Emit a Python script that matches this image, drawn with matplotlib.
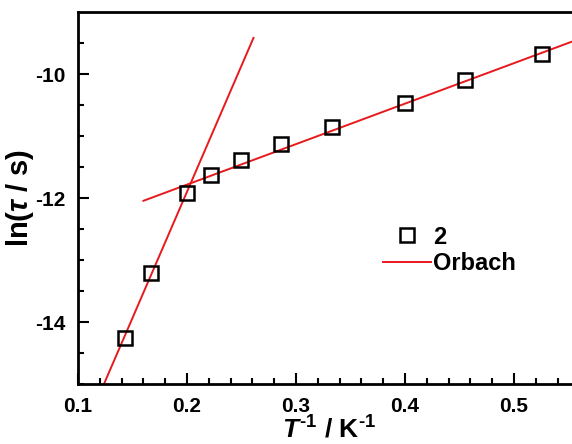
import matplotlib.pyplot as plt
import numpy as np

plt.rcParams['font.family'] = ['Liberation Sans', 'DejaVu Sans']
plt.rcParams['font.weight'] = 'bold'
plt.rcParams['axes.labelweight'] = 'bold'
plt.rcParams['axes.unicode_minus'] = False
plt.rcParams['mathtext.fontset'] = 'custom'
plt.rcParams['mathtext.it'] = 'Liberation Sans:italic:bold'
plt.rcParams['mathtext.rm'] = 'Liberation Sans:bold'

# data: inverse temperature and ln(tau)
inv_T = [0.143, 0.167, 0.200, 0.222, 0.250, 0.286, 0.333, 0.400, 0.455, 0.526]
ln_tau = [-14.26, -13.21, -11.92, -11.63, -11.39, -11.13, -10.85, -10.46, -10.10, -9.68]

# Orbach fits (slope, intercept) and x ranges
fit_hi_x = [0.12, 0.261]
fit_hi_slope = 40.7
fit_hi_icpt = -20.04
fit_lo_x = [0.16, 0.56]
fit_lo_slope = 6.53
fit_lo_icpt = -13.09

fig = plt.figure(figsize=(5.72, 4.44), dpi=100)
ax = fig.add_axes([78/572, 60/444, (580-78)/572, 372/444])

xh = np.array(fit_hi_x)
xl = np.array(fit_lo_x)
ax.plot(xh, fit_hi_slope*xh + fit_hi_icpt, color='#e8191c', lw=1.4)
ax.plot(xl, fit_lo_slope*xl + fit_lo_icpt, color='#e8191c', lw=1.4, label='Orbach')
ax.plot(inv_T, ln_tau, ls='none', marker='s', ms=9.5, mfc='none', mec='black', mew=1.8, label='2')

ax.set_xlim(0.1, 0.1 + (580-78)/1090)
ax.set_ylim(-15, -9)
ax.set_xticks([0.1, 0.2, 0.3, 0.4, 0.5])
ax.set_xticks(np.arange(0.12, 0.56, 0.02), minor=True)
ax.set_yticks([-14, -12, -10])
ax.set_yticks(np.arange(-15, -9, 0.5), minor=True)
ax.tick_params(which='both', direction='in', width=1.5, labelsize=15, top=False, right=False)
ax.tick_params(which='major', length=8, pad=9)
ax.tick_params(which='minor', length=4)
for lab in ax.get_xticklabels() + ax.get_yticklabels():
    lab.set_fontweight('bold')
for s in ax.spines.values():
    s.set_linewidth(2)
ax.spines['right'].set_visible(False)

ax.set_xlabel(r'$T^{\text{-1}}$ / K$^{\text{-1}}$', fontsize=19, labelpad=0)
ax.set_ylabel(r'ln($\tau$ / s)', fontsize=21)
ax.yaxis.set_label_coords(-0.083, 0.5)

h, l = ax.get_legend_handles_labels()
ax.legend(h[::-1], l[::-1], loc='upper left', bbox_to_anchor=(0.566, 0.483), frameon=False,
          handlelength=2.0, handletextpad=0.1, labelspacing=0.15,
          prop={'weight': 'bold', 'size': 17})

fig.savefig('out.png', dpi=100)
